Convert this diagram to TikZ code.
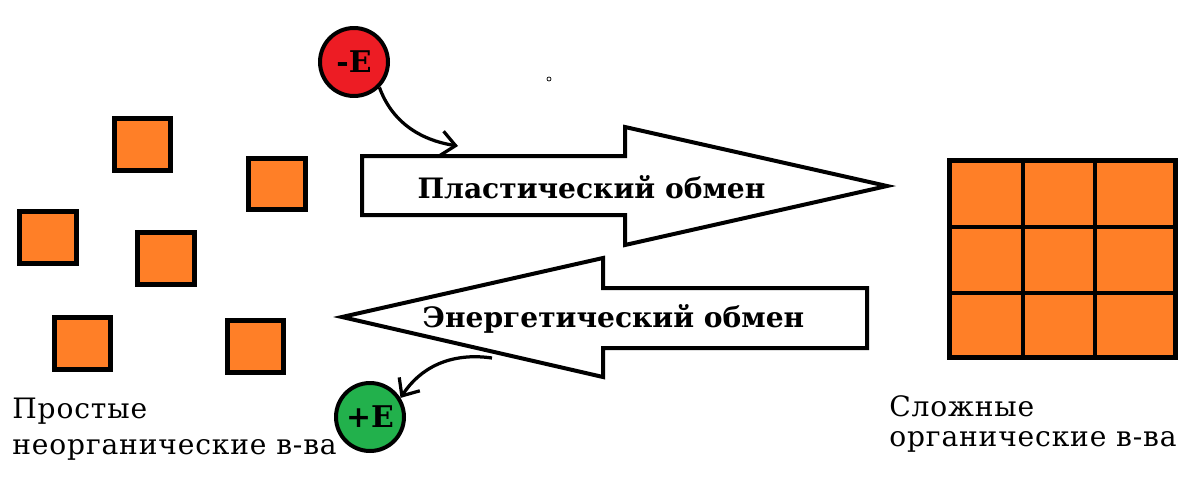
\documentclass[tikz,border=0pt]{standalone}
\usepackage{fontspec}
\setmainfont{DejaVu Serif}
\usetikzlibrary{arrows.meta}
\definecolor{porange}{HTML}{FF7F27}
\definecolor{pred}{HTML}{ED1C24}
\definecolor{pgreen}{HTML}{22B14C}
\tikzset{
  sq/.style={draw=black, fill=porange, line width=0.1cm, minimum width=1.14cm, minimum height=1.04cm, inner sep=0},
  bigarrow/.style={draw=black, fill=white, line width=0.08cm, line join=miter},
  arrlabel/.style={font=\bfseries\fontsize{16}{19}\selectfont, inner sep=0},
  energy/.style={circle, draw=black, line width=0.08cm, minimum size=1.36cm, inner sep=0, font=\bfseries\fontsize{17}{20}\selectfont},
  curvedarrow/.style={line width=0.065cm, -{Straight Barb[length=8pt,width=14pt,line width=0.065cm]}},
  caption/.style={align=left, inner sep=0, anchor=north west}
}
\begin{document}
\begin{tikzpicture}[x=0.02cm,y=-0.02cm]
\useasboundingbox[fill=white] (0,0) rectangle (1200,477);
% scattered squares
\node[sq] (s1) at (142.5,144.5) {};
\node[sq] (s2) at (277,184) {};
\node[sq] (s3) at (48,237.5) {};
\node[sq] (s4) at (166,258.5) {};
\node[sq] (s5) at (82.5,343) {};
\node[sq] (s6) at (255.5,346) {};
% grid
\fill[porange] (949.5,160.5) rectangle (1175.5,357.5);
\draw[line width=0.09cm, line cap=rect] (949.5,160.5) rectangle (1175.5,357.5);
\draw[line width=0.09cm] (1023,160.5) -- (1023,357.5) (1095,160.5) -- (1095,357.5)
  (949.5,227) -- (1175.5,227) (949.5,293) -- (1175.5,293);
% big arrows
\draw[bigarrow] (362,156) -- (625,156) -- (625,127) -- (887,186) -- (625,245) -- (625,215) -- (362,215) -- cycle;
\draw[bigarrow] (867,288) -- (603,288) -- (603,258) -- (342,317) -- (603,377) -- (603,348) -- (867,348) -- cycle;
\node[arrlabel] (plast) at (591.5,187) {Пластический обмен};
\node[arrlabel] (energ) at (613.5,319) {Энергетический обмен};
% energy circles
\node[energy, fill=pred] (minusE) at (354,62) {-E};
\node[energy, fill=pgreen] (plusE) at (370,417) {+E};
\coordinate (inPlast) at (458,146);
\coordinate (outEnerg) at (492,358);
\draw[curvedarrow] (minusE.-45) .. controls (392,122) and (420,140) .. (inPlast);
\draw[curvedarrow] (outEnerg) .. controls (450,352) and (420,368) .. (plusE.32);
% tiny dot
\node[circle, draw=black, line width=0.4pt, minimum size=0.08cm, inner sep=0] (dot) at (549,79) {};
% captions
\node[caption, font=\fontsize{16}{20.4}\selectfont\addfontfeatures{LetterSpace=3}] (simple) at (12,398) {Простые\\неорганические в-ва};
\node[caption, font=\fontsize{16}{17}\selectfont\addfontfeatures{LetterSpace=3}] (complex) at (889,395) {Сложные\\органические в-ва};
\end{tikzpicture}
\end{document}
